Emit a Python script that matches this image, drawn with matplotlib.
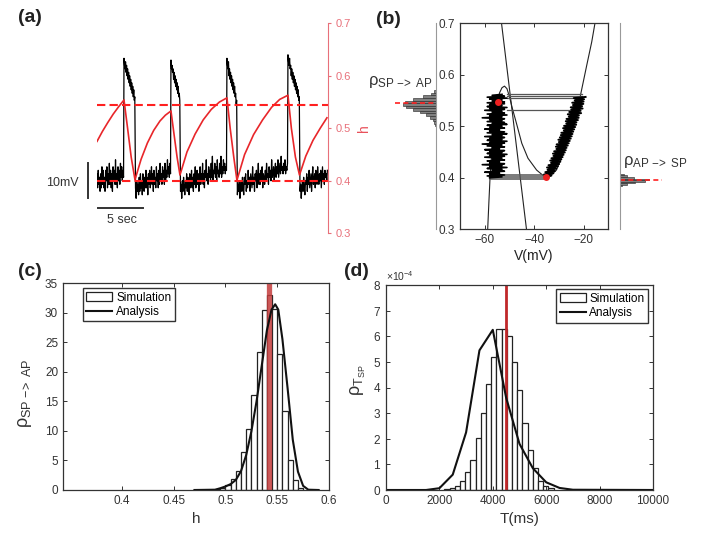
import numpy as np
import matplotlib
matplotlib.use('Agg')
import matplotlib.pyplot as plt
from matplotlib.ticker import ScalarFormatter

plt.rcParams['font.family'] = ['Liberation Sans', 'DejaVu Sans']
plt.rcParams['mathtext.fontset'] = 'custom'
plt.rcParams['mathtext.rm'] = 'Liberation Sans'
plt.rcParams['mathtext.it'] = 'Liberation Sans'
plt.rcParams['mathtext.default'] = 'regular'

###############################################################################
# (a) membrane potential (mV) and slow variable h against time (s)

V_REST = -60
# silent phase noise, mV around V_REST
base_1 = [2, -2, 3, -1, 1, -3, 2, -2, 4, -1, 3, -2, 1, -3, 3, 0, 4, -2, 2, -1,
          5, -1, 3, -2, 2, -3, 4, 0, 3, -1, 6, -1, 2, -2, 4, 0, 3, -1, 5, 1,
          4, 0, 3, 1]
base_2 = [-2, -5, 0, -3, -1, -4, 1, -3, 2, -2, 0, -4, 2, -1, -3, 1, -2, 3, -2,
          1, -4, 2, -1, 3, -2, 0, 4, -1, 2, -3, 3, -1, 1, -2, 4, 0, 2, -2, 3,
          -1, 5, 0, 2, -1, 4, 1, 3, -1, 5, 0, 3, 1, 6, 2, 4, 1, 5, 2]
base_3 = [-3, -1, -5, 0, -3, 1, -2, -4, 0, -2, 2, -3, 1, -1, -4, 2, -2, 0, 3,
          -2, 1, -3, 2, -1, 4, -2, 0, 3, -1, 2, -3, 1, 4, -1, 2, 0, 5, -1, 2,
          -2, 3, 1, 6, 0, 2, -1, 4, 1, 3, 0, 5, 1, 7, 0, 3, 2, 5, 1, 4, 0, 6,
          2, 3, 1, 5, 2, 7, 1, 4, 2, 6, 3, 5, 2, 4, 3]
base_4 = [-4, -1, -3, 0, -5, -2, 0, -3, 1, -2, -4, 1, -1, 2, -3, 0, -2, 3, -1,
          1, -3, 2, 0, -2, 4, -1, 1, -3, 2, 0, 3, -2, 1, 5, -1, 2, -1, 3, 0, 4,
          -2, 2, 1, -1, 3, 0, 5, 1, 2, -1, 4, 1, 3, 0, 6, 1, 2, 4, 0, 3, 5, 1,
          4, 2, 6, 1, 3, 5, 2, 7, 3, 4, 2, 5, 3, 6, 2, 4, 3, 5]
base_5 = [-3, -1, -5, -2, 0, -3, 1, -2, -4, 0, -1, 2, -3, 1, -1, 3, -2, 0, 2,
          -3, 1, 4, -1, 0, 2, -2, 3, 0, -1, 4, 1, -1, 2, 0, 3, -2, 1, 4, 0, 2,
          -1, 3, 1, 2, 0, 3]
# active phase plateaus, mV
ap_1 = [-25, -27, -28, -26, -29, -27, -30, -28, -31, -29, -32, -30, -33, -31,
        -34, -32, -35, -33, -36, -34, -37, -36]
ap_2 = [-25.5, -28, -27, -29, -28, -31, -29, -32, -30, -33, -31, -34, -32,
        -35, -33, -36, -35, -37]
ap_3 = [-25, -27, -28, -26, -30, -28, -31, -29, -32, -30, -33, -31, -34, -32,
        -35, -33, -36, -35, -38, -37]
ap_4 = [-24, -26, -27, -25, -28, -27, -30, -28, -31, -29, -32, -30, -33, -31,
        -34, -32, -35, -33, -36, -34, -37, -36]

trace_parts = [(0.0, 2.95, base_1, True), (3.0, 4.2, ap_1, False),
               (4.28, 8.17, base_2, True), (8.22, 9.2, ap_2, False),
               (9.28, 14.39, base_3, True), (14.44, 15.52, ap_3, False),
               (15.6, 21.17, base_4, True), (21.22, 22.48, ap_4, False),
               (22.56, 25.6, base_5, True)]

h_t = [0.0, 0.6, 1.2, 1.8, 2.4, 3.0, 3.4, 3.8, 4.22,
       4.9, 5.6, 6.3, 7.0, 7.6, 8.22, 8.55, 8.9, 9.22,
       10.0, 10.9, 11.8, 12.7, 13.6, 14.44, 14.8, 15.2, 15.55,
       16.4, 17.4, 18.4, 19.4, 20.3, 21.22, 21.6, 22.05, 22.5,
       23.2, 24.0, 24.8, 25.55]
h_val = [0.475, 0.494, 0.511, 0.527, 0.541, 0.554, 0.50, 0.445, 0.402,
         0.441, 0.472, 0.496, 0.514, 0.525, 0.533, 0.49, 0.445, 0.411,
         0.455, 0.489, 0.516, 0.536, 0.550, 0.558, 0.50, 0.445, 0.401,
         0.45, 0.488, 0.516, 0.540, 0.555, 0.563, 0.50, 0.445, 0.411,
         0.447, 0.477, 0.50, 0.52]
h_up, h_down = 0.545, 0.40

###############################################################################
# (b) phase plane

null_v = [-58.8, -58.3, -57.8, -57.0, -56.0, -55.0, -54.0, -53.0, -52.0,
          -51.0, -50.0, -49.0, -47.0, -45.0, -42.5, -39.0, -36.0, -34.0,
          -31.0, -28.0, -25.0, -22.5, -21.4, -18.7, -16.7, -15.4]
null_h = [0.30, 0.354, 0.405, 0.46, 0.51, 0.545, 0.565, 0.575, 0.578,
          0.573, 0.558, 0.538, 0.503, 0.467, 0.438, 0.415, 0.403, 0.401,
          0.415, 0.45, 0.49, 0.535, 0.557, 0.619, 0.664, 0.70]
line_v = [-53.2, -43.1]
line_h = [0.70, 0.30]

# silent branch (h rising) and active branch (h falling), V in mV
sp_v = [-58, -53, -59, -52, -58, -54, -60, -52, -57, -53, -59, -51, -58, -53,
        -61, -52, -58, -54, -59, -52, -57, -53, -60, -52, -58, -51, -59, -53,
        -58, -52, -60, -54, -57, -52, -59, -53, -61, -52, -58, -51, -59, -53,
        -58, -52, -60, -53, -57, -51, -59, -52, -58, -54, -60, -52, -58, -53,
        -59, -51, -57, -52, -59, -53, -58, -52, -61, -53, -58, -51, -59, -52,
        -57, -53, -60, -52, -58, -51, -59, -53, -58, -52, -59, -52, -57, -53,
        -58, -51, -59, -52, -57, -53]
ap_v = [-19.2, -24.0, -19.8, -23.6, -20.0, -24.6, -20.1, -24.3, -20.6, -25.2,
        -20.4, -25.0, -21.2, -25.8, -21.0, -26.4, -21.9, -26.0, -22.0, -26.9,
        -22.3, -27.2, -22.9, -27.0, -23.0, -27.9, -23.4, -28.3, -23.8, -28.0,
        -24.2, -29.0, -24.5, -29.2, -24.8, -29.6, -25.2, -30.2, -25.6, -30.0,
        -26.0, -30.9, -26.4, -31.2, -26.9, -31.0, -27.2, -31.9, -27.6, -32.4,
        -28.1, -32.2, -28.5, -33.0, -29.0, -33.5, -29.4, -33.2, -29.9, -34.2,
        -30.4, -34.8, -31.0, -34.6, -31.6, -35.5, -32.2, -36.0, -33.0, -35.6]
jump_top_h = [0.563, 0.558, 0.554, 0.531]
jump_top_v = [-20.5, -20.8, -21.0, -24.5]
jump_bot_h = [0.405, 0.401, 0.398]
jump_bot_v = [-34.0, -35.0, -35.5]
knee_v = [-54.5, -35.3]
knee_h = [0.547, 0.402]

ap_sp_h = [0.385, 0.388, 0.391, 0.394, 0.397, 0.400, 0.403, 0.406]
ap_sp_n = [2, 7, 15, 25, 29, 14, 7, 4]

###############################################################################
# (c) and (d) histograms

sp_bin_left = [0.49, 0.495, 0.50, 0.505, 0.51, 0.515, 0.52, 0.525, 0.53,
               0.535, 0.54, 0.545, 0.55, 0.555, 0.56, 0.565, 0.57]
sp_density = [0.1, 0.4, 0.9, 1.9, 3.2, 6.5, 10.3, 16.1, 23.3, 30.4, 33.0,
              30.6, 23.0, 13.4, 5.1, 1.7, 0.3]
sp_ana_h = [0.47, 0.49, 0.495, 0.50, 0.505, 0.51, 0.515, 0.52, 0.525, 0.53,
            0.535, 0.54, 0.5445, 0.548, 0.551, 0.555, 0.56, 0.565, 0.57,
            0.575, 0.58, 0.59]
sp_ana_rho = [0, 0.05, 0.3, 0.6, 1.0, 1.7, 3.2, 5.9, 9.9, 15.0, 21.0, 27.0,
              30.5, 31.4, 30.5, 25.5, 17.2, 8.5, 3.1, 0.7, 0.05, 0]
sp_mean = 0.5422

tsp_bin_left = [2185, 2380, 2575, 2770, 2965, 3160, 3355, 3550, 3745, 3940,
                4135, 4330, 4525, 4720, 4915, 5110, 5305, 5500, 5695, 5890,
                6085]
tsp_density = [0.03e-4, 0.07e-4, 0.17e-4, 0.37e-4, 0.69e-4, 1.17e-4, 2.04e-4,
               3.0e-4, 4.15e-4, 5.2e-4, 6.3e-4, 6.3e-4, 6.0e-4, 5.0e-4,
               3.9e-4, 2.6e-4, 1.57e-4, 0.86e-4, 0.37e-4, 0.17e-4, 0.06e-4]
tsp_ana_t = [0, 1500, 2000, 2500, 3000, 3500, 4000, 4500, 5000, 5500, 6000,
             6500, 7000, 10000]
tsp_ana_rho = [0, 0, 0.07e-4, 0.6e-4, 2.25e-4, 5.45e-4, 6.25e-4, 3.6e-4,
               1.8e-4, 0.85e-4, 0.3e-4, 0.08e-4, 0.01e-4, 0]
tsp_mean = 4480

###############################################################################

W, H = 701, 533


def box(l, t, r, b):
    return [l / W, 1 - b / H, (r - l) / W, (b - t) / H]


def matlab_axes(ax):
    for s in ax.spines.values():
        s.set_color('#333333')
        s.set_linewidth(0.9)
    ax.tick_params(direction='in', top=True, right=True, length=3,
                   width=0.7, labelsize=8.5, colors='#333333')


legend_kw = dict(borderaxespad=0, fancybox=False, edgecolor='#333333',
                 framealpha=1, fontsize=8.5, handlelength=2.2, borderpad=0.3,
                 labelspacing=0.2, handletextpad=0.3)

fig = plt.figure(figsize=(7.01, 5.33), dpi=100)

# ---- (a)
ax_v = fig.add_axes(box(97, 23.3, 328, 233.3))
ts, vs = [], []
for t0, t1, vals, is_base in trace_parts:
    ts.append(np.linspace(t0, t1, len(vals)))
    vs.append(V_REST + np.array(vals) if is_base else np.array(vals))
ax_v.plot(np.concatenate(ts), np.concatenate(vs), color='black', lw=0.9)
ax_v.set_xlim(0, 25.67)
ax_v.set_ylim(-75, -15)
ax_v.axis('off')
ax_v.plot([-0.97, -0.97], [-65, -55], color='#333333', lw=1.4, clip_on=False)
ax_v.plot([0.1, 5.1], [-67.9, -67.9], color='#333333', lw=1.4, clip_on=False)
ax_v.text(-2.0, -60.5, '10mV', ha='right', va='center', fontsize=9,
          color='#333333')
ax_v.text(2.8, -71.3, '5 sec', ha='center', va='center', fontsize=9,
          color='#333333')

ax_h = ax_v.twinx()
ax_h.plot(h_t, h_val, color='#e8262a', lw=1.2)
ax_h.axhline(h_up, color='#ff2020', ls=(0, (4, 2)), lw=1.5)
ax_h.axhline(h_down, color='#ff2020', ls=(0, (4, 2)), lw=1.5)
ax_h.set_ylim(0.3, 0.7)
ax_h.set_yticks([0.3, 0.4, 0.5, 0.6, 0.7])
for s in ['top', 'left', 'bottom']:
    ax_h.spines[s].set_visible(False)
ax_h.spines['right'].set_color('#e8707a')
ax_h.tick_params(axis='y', direction='out', length=2, labelsize=8,
                 colors='#e8707a')
ax_h.set_ylabel('h', color='#e8505a', fontsize=10)
ax_h.yaxis.set_label_coords(1.125, 0.5)

# ---- (b)
ax_b = fig.add_axes(box(460, 23.3, 608.3, 229.3))
ax_b.plot(null_v, null_h, color='#222222', lw=0.8)
ax_b.plot(line_v, line_h, color='#222222', lw=0.8)
for h, v in zip(jump_top_h, jump_top_v):
    ax_b.plot([-51, v], [h, h], color='#555555', lw=0.9)
for h, v in zip(jump_bot_h, jump_bot_v):
    ax_b.plot([v, -58], [h, h], color='#555555', lw=1.1)
ax_b.plot(sp_v, np.linspace(0.40, 0.562, len(sp_v)), color='black', lw=1.2)
ax_b.plot(ap_v, np.linspace(0.557, 0.402, len(ap_v)), color='black', lw=1.4)
ax_b.plot(knee_v, knee_h, 'o', color='#ee2020', ms=5, mec='none')
ax_b.set_xlim(-70, -10)
ax_b.set_ylim(0.3, 0.7)
ax_b.set_xticks([-60, -40, -20])
ax_b.set_yticks([0.3, 0.4, 0.5, 0.6, 0.7])
matlab_axes(ax_b)
ax_b.set_xlabel('V(mV)', fontsize=10, color='#222222', labelpad=2)

ax_l = fig.add_axes(box(385, 23.3, 436, 229.3))
ax_l.barh(sp_bin_left, sp_density, height=0.005, align='edge',
          color='#808080', edgecolor='#222222', lw=0.4)
ax_l.plot([41, 0], [0.5445, 0.5445], color='#ff2020', ls=(0, (3, 2)), lw=1.2)
ax_l.set_xlim(51, 0)
ax_l.set_ylim(0.3, 0.7)
for s in ['top', 'left', 'bottom']:
    ax_l.spines[s].set_visible(False)
ax_l.spines['right'].set_color('#999999')
ax_l.set_xticks([])
ax_l.set_yticks([])
ax_l.patch.set_alpha(0)

ax_r = fig.add_axes(box(620, 23.3, 672, 229.3))
ax_r.barh(ap_sp_h, ap_sp_n, height=0.003, align='center',
          color='#808080', edgecolor='#222222', lw=0.4)
ax_r.plot([0, 42], [0.396, 0.396], color='#ff2020', ls=(0, (3, 2)), lw=1.2)
ax_r.set_xlim(0, 52)
ax_r.set_ylim(0.3, 0.7)
for s in ['top', 'right', 'bottom']:
    ax_r.spines[s].set_visible(False)
ax_r.spines['left'].set_color('#999999')
ax_r.set_xticks([])
ax_r.set_yticks([])
ax_r.patch.set_alpha(0)

fig.text(400 / W, 1 - 82 / H, r'$\rho_{SP\ {-}\!{>}\ AP}$', ha='center',
         va='center', fontsize=12, color='#333333')
fig.text(655 / W, 1 - 162 / H, r'$\rho_{AP\ {-}\!{>}\ SP}$', ha='center',
         va='center', fontsize=12, color='#333333')

# ---- (c)
ax_c = fig.add_axes(box(63, 283, 329, 490))
bars_c = ax_c.bar(sp_bin_left, sp_density, width=0.005, align='edge',
                  facecolor='white', edgecolor='#222222', lw=0.9)
ax_c.axvline(sp_mean, color='#c43c3c', lw=3.8, alpha=0.85)
line_c, = ax_c.plot(sp_ana_h, sp_ana_rho, color='#111111', lw=1.5)
ax_c.set_xlim(0.343, 0.6)
ax_c.set_ylim(0, 35)
ax_c.set_xticks([0.4, 0.45, 0.5, 0.55, 0.6])
ax_c.set_xticklabels(['0.4', '0.45', '0.5', '0.55', '0.6'])
ax_c.set_yticks(range(0, 36, 5))
matlab_axes(ax_c)
ax_c.legend([bars_c, line_c], ['Simulation', 'Analysis'], loc='upper left',
            bbox_to_anchor=(0.075, 0.976), **legend_kw)
ax_c.set_xlabel('h', fontsize=11, color='#333333')
ax_c.text(-0.143, 0.469, r'$\rho_{SP\ {-}\!{>}\ AP}$', rotation=90,
          ha='center', va='center', fontsize=13, color='#333333',
          transform=ax_c.transAxes)

# ---- (d)
ax_d = fig.add_axes(box(386, 285, 653, 490))
bars_d = ax_d.bar(tsp_bin_left, tsp_density, width=195, align='edge',
                  facecolor='white', edgecolor='#222222', lw=0.9)
ax_d.axvline(tsp_mean, color='#c0282a', lw=2)
line_d, = ax_d.plot(tsp_ana_t, tsp_ana_rho, color='#111111', lw=1.5)
ax_d.set_xlim(0, 10000)
ax_d.set_ylim(0, 8e-4)
ax_d.set_xticks(range(0, 10001, 2000))
ax_d.set_yticks(np.arange(0, 9) * 1e-4)
fmt = ScalarFormatter(useMathText=True)
fmt.set_powerlimits((0, 0))
ax_d.yaxis.set_major_formatter(fmt)
matlab_axes(ax_d)
ax_d.yaxis.get_offset_text().set_fontsize(7.5)
ax_d.legend([bars_d, line_d], ['Simulation', 'Analysis'], loc='upper right',
            bbox_to_anchor=(0.981, 0.98), **legend_kw)
ax_d.set_xlabel('T(ms)', fontsize=11, color='#333333')
ax_d.text(-0.105, 0.537, r'$\rho_{T_{SP}}$', rotation=90,
          ha='center', va='center', fontsize=13, color='#333333',
          transform=ax_d.transAxes)

for lbl, x, y in [('(a)', 30, 18), ('(b)', 388, 20), ('(c)', 30, 271),
                  ('(d)', 356, 271)]:
    fig.text(x / W, 1 - y / H, lbl, ha='center', va='center', fontsize=14,
             fontweight='bold', color='#222222')

fig.savefig('out.png', dpi=100)
